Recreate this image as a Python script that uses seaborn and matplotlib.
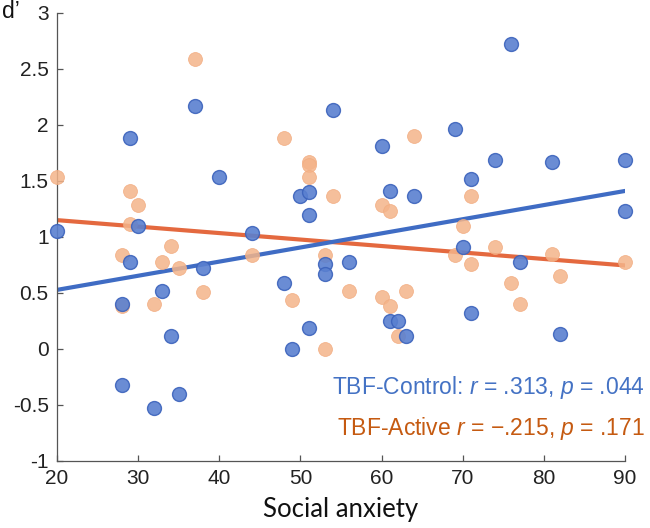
import numpy as np
import pandas as pd
import matplotlib
matplotlib.use('Agg')
import matplotlib.pyplot as plt
import seaborn as sns

# TBF-Control (blue)
ctrl_x = [20, 29, 37, 40, 30, 54, 60, 50, 51, 51, 61, 64, 44, 76, 69, 74, 81, 90, 71, 90, 70,
          29, 38, 33, 28, 34, 28, 35, 32, 53, 53, 56, 48, 51, 49, 61, 62, 63, 77, 71, 82]
ctrl_y = [1.05, 1.88, 2.17, 1.54, 1.10, 2.13, 1.81, 1.37, 1.40, 1.20, 1.41, 1.37, 1.04, 2.72, 1.96,
          1.69, 1.67, 1.69, 1.52, 1.23, 0.91, 0.78, 0.72, 0.52, 0.40, 0.12, -0.32, -0.40, -0.53,
          0.76, 0.67, 0.78, 0.59, 0.19, 0.00, 0.25, 0.25, 0.12, 0.78, 0.32, 0.13]

# TBF-Active (orange)
act_x = [37, 20, 29, 30, 29, 34, 48, 51, 51, 51, 54, 60, 61, 64, 71, 70, 74, 81, 28, 33,
         35, 38, 32, 28, 44, 53, 49, 56, 60, 61, 63, 62, 53, 69, 71, 90, 82, 76, 77]
act_y = [2.59, 1.54, 1.41, 1.29, 1.12, 0.92, 1.88, 1.67, 1.64, 1.54, 1.37, 1.29, 1.23, 1.90, 1.37,
         1.10, 0.91, 0.85, 0.84, 0.78, 0.72, 0.51, 0.40, 0.38, 0.84, 0.84, 0.44, 0.52, 0.46, 0.38,
         0.52, 0.12, 0.00, 0.84, 0.76, 0.78, 0.65, 0.59, 0.40]

x_ticks = [20, 30, 40, 50, 60, 70, 80, 90]
y_ticks = [-1, -0.5, 0, 0.5, 1, 1.5, 2, 2.5, 3]
y_ticklabels = ['-1', '-0.5', '0', '0.5', '1', '1.5', '2', '2.5', '3']

ctrl_label = 'TBF-Control: $r$ = .313, $p$ = .044'
act_label = 'TBF-Active $r$ = \u2212.215, $p$ = .171'

df = pd.concat([
    pd.DataFrame({'anxiety': ctrl_x, 'dprime': ctrl_y, 'group': 'TBF-Control'}),
    pd.DataFrame({'anxiety': act_x, 'dprime': act_y, 'group': 'TBF-Active'}),
])

sns.set_style('ticks')
plt.rcParams['font.family'] = ['Liberation Sans', 'DejaVu Sans']
plt.rcParams['mathtext.fontset'] = 'custom'
plt.rcParams['mathtext.rm'] = 'Liberation Sans'
plt.rcParams['mathtext.it'] = 'Liberation Sans:italic'

fig = plt.figure(figsize=(6.5, 5.28), dpi=100)
ax = fig.add_axes([57/650, 1 - 461/528, 568/650, 448/528])

blue_line = '#3F6CC4'
orange_line = '#E4693F'

act = df[df.group == 'TBF-Active']
ctrl = df[df.group == 'TBF-Control']

sns.regplot(data=act, x='anxiety', y='dprime', ax=ax, ci=None, truncate=True,
            scatter_kws=dict(s=100, color='#F4B48A', alpha=0.85, linewidths=0.6,
                             edgecolors='#F2AC80', clip_on=False, zorder=3),
            line_kws=dict(color=orange_line, lw=3, zorder=2))
sns.regplot(data=ctrl, x='anxiety', y='dprime', ax=ax, ci=None, truncate=True,
            scatter_kws=dict(s=100, color='#5A80D0', alpha=0.9, linewidths=1.0,
                             edgecolors='#3C63BC', clip_on=False, zorder=4),
            line_kws=dict(color=blue_line, lw=3, zorder=2))

ax.set_xlim(20, 90)
ax.set_ylim(-1, 3)
ax.set_xticks(x_ticks)
ax.set_yticks(y_ticks)
ax.set_yticklabels(y_ticklabels)
sns.despine(ax=ax)
for s in ['left', 'bottom']:
    ax.spines[s].set_color('#555555')
    ax.spines[s].set_linewidth(0.9)
ax.tick_params(direction='in', length=4, width=0.9, color='#555555',
               labelsize=15, labelcolor='#222222', pad=6)

ax.set_ylabel('')
ax.set_xlabel('Social anxiety', fontsize=18.5, family=['Lato', 'DejaVu Sans'],
              color='#111111', labelpad=6)

fig.text(2/650, 1 - 12/528, 'd\u2019', fontsize=16.5, color='#111111', ha='left', va='center')

ax.text(1.035, 0.165, ctrl_label, transform=ax.transAxes, ha='right', va='center',
        fontsize=16.5, color='#4472C4', clip_on=False)
ax.text(1.035, 0.072, act_label, transform=ax.transAxes, ha='right', va='center',
        fontsize=16.5, color='#C55A11', clip_on=False)

fig.savefig('out.png', dpi=100)
